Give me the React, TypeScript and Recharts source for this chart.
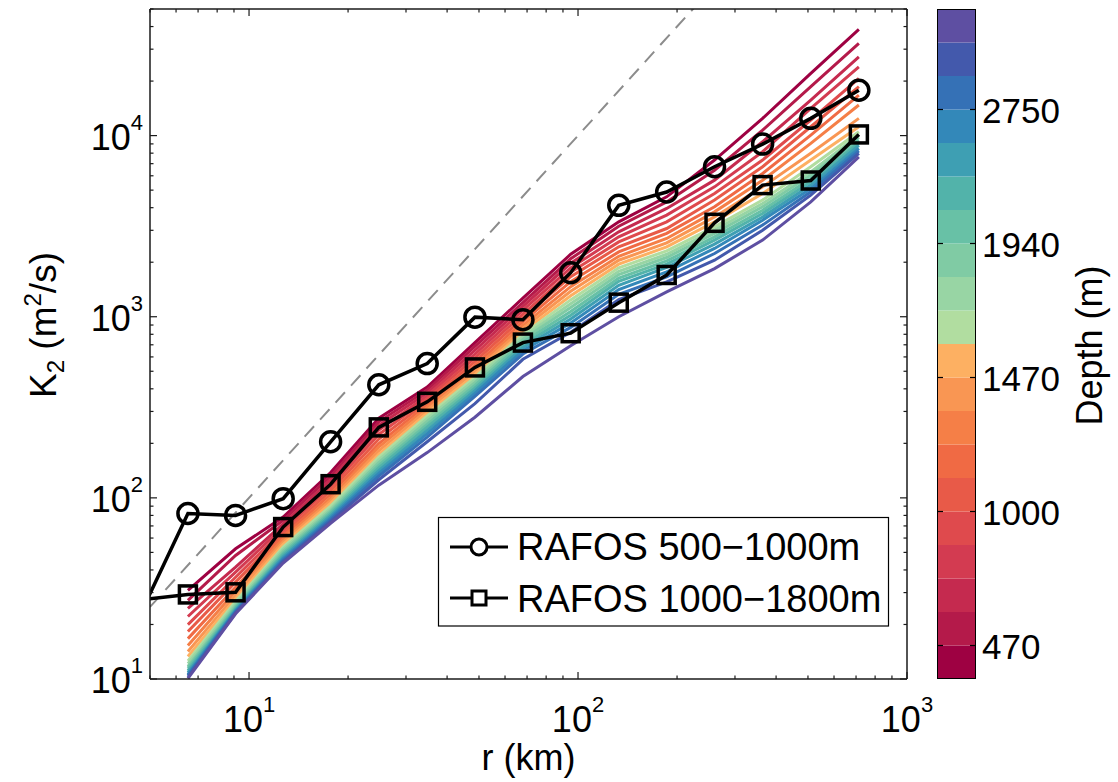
import { Bar, BarChart, Line, LineChart, XAxis, YAxis } from "recharts";

const FONT = '"Liberation Sans", Arial, Helvetica, sans-serif';
const AXIS = "#1a1a1a";

// separation r (km) where the depth curves are sampled
const R_KM = [6.52, 9.1, 12.7, 17.7, 24.8, 34.8, 48.6, 68, 95, 133, 186, 260, 364, 510, 714];

// log10 K2 (m^2/s) per depth level, shallow (470 m) first, deepest last
const K2_LOG10: number[][] = [
  [1.489, 1.719, 1.894, 2.14, 2.44, 2.612, 2.857, 3.103, 3.345, 3.524, 3.662, 3.865, 4.095, 4.344, 4.587],
  [1.434, 1.682, 1.876, 2.12, 2.42, 2.596, 2.836, 3.078, 3.32, 3.5, 3.634, 3.809, 4.03, 4.27, 4.509],
  [1.39, 1.618, 1.857, 2.1, 2.4, 2.58, 2.815, 3.057, 3.295, 3.469, 3.598, 3.754, 3.966, 4.196, 4.435],
  [1.345, 1.59, 1.839, 2.08, 2.375, 2.564, 2.794, 3.036, 3.27, 3.441, 3.561, 3.717, 3.911, 4.15, 4.38],
  [1.3, 1.562, 1.82, 2.06, 2.35, 2.548, 2.773, 3.015, 3.246, 3.413, 3.524, 3.68, 3.865, 4.086, 4.316],
  [1.262, 1.535, 1.802, 2.04, 2.325, 2.532, 2.752, 2.994, 3.221, 3.386, 3.487, 3.644, 3.828, 4.049, 4.27],
  [1.223, 1.507, 1.787, 2.02, 2.3, 2.516, 2.731, 2.973, 3.194, 3.358, 3.46, 3.607, 3.791, 4.003, 4.224],
  [1.185, 1.485, 1.772, 2.0, 2.28, 2.5, 2.714, 2.952, 3.166, 3.334, 3.432, 3.579, 3.754, 3.957, 4.169],
  [1.152, 1.463, 1.758, 1.985, 2.26, 2.484, 2.697, 2.935, 3.141, 3.312, 3.408, 3.551, 3.717, 3.902, 4.095],
  [1.124, 1.443, 1.743, 1.97, 2.24, 2.468, 2.68, 2.918, 3.116, 3.29, 3.386, 3.524, 3.68, 3.865, 4.049],
  [1.1, 1.428, 1.728, 1.955, 2.225, 2.452, 2.665, 2.903, 3.093, 3.27, 3.364, 3.496, 3.644, 3.828, 4.021],
  [1.085, 1.415, 1.717, 1.94, 2.21, 2.437, 2.651, 2.888, 3.072, 3.251, 3.345, 3.478, 3.625, 3.8, 4.003],
  [1.07, 1.404, 1.706, 1.93, 2.195, 2.422, 2.636, 2.874, 3.051, 3.233, 3.327, 3.46, 3.607, 3.782, 3.99],
  [1.06, 1.395, 1.695, 1.92, 2.18, 2.406, 2.621, 2.859, 3.029, 3.214, 3.308, 3.441, 3.588, 3.763, 3.975],
  [1.047, 1.388, 1.685, 1.91, 2.165, 2.39, 2.606, 2.844, 3.008, 3.196, 3.29, 3.423, 3.57, 3.745, 3.96],
  [1.036, 1.38, 1.675, 1.9, 2.15, 2.373, 2.592, 2.829, 2.987, 3.174, 3.272, 3.401, 3.551, 3.727, 3.946],
  [1.025, 1.375, 1.665, 1.89, 2.135, 2.355, 2.577, 2.813, 2.966, 3.15, 3.248, 3.377, 3.533, 3.708, 3.929],
  [1.02, 1.37, 1.656, 1.88, 2.12, 2.335, 2.56, 2.794, 2.941, 3.124, 3.22, 3.349, 3.506, 3.69, 3.916],
  [1.01, 1.364, 1.648, 1.87, 2.1, 2.31, 2.52, 2.765, 2.914, 3.095, 3.192, 3.312, 3.478, 3.671, 3.902],
  [1.003, 1.36, 1.64, 1.86, 2.07, 2.25, 2.445, 2.67, 2.84, 3.0, 3.137, 3.266, 3.423, 3.634, 3.883],
];

const LEVEL_COLORS = [
  "#9e0142", "#b41a4a", "#c52a4f", "#d33b51", "#df4a4d",
  "#e85a48", "#f06a44", "#f57f47", "#f99653", "#fdb062",
  "#b1dda0", "#98d5a4", "#80cba4", "#68c1a6", "#52b3aa",
  "#3e9fb3", "#3388b9", "#3571b6", "#4359ac", "#5e4fa2",
];

// RAFOS float estimates (first point sits just left of the axis)
const RAFOS_R = [4.65, 6.52, 9.1, 12.7, 17.7, 24.8, 34.8, 48.6, 68, 95, 133, 186, 260, 364, 510, 714];
const RAFOS_500_1000 = [22.4, 82, 80, 99, 204, 421, 551, 995, 962, 1750, 4120, 4880, 6730, 8980, 12450, 17800];
const RAFOS_1000_1800 = [27.3, 29.3, 30.1, 69, 119, 245, 339, 525, 720, 811, 1196, 1700, 3300, 5330, 5650, 10150];

// dashed r^2 reference
const REF_R = [5, 1000];
const REF_K = [25, 1000000];

const X_TICKS = [5, 6, 7, 8, 9, 10, 20, 30, 40, 50, 60, 70, 80, 90, 100, 200, 300, 400, 500, 600, 700, 800, 900, 1000];
const Y_TICKS = [
  10, 20, 30, 40, 50, 60, 70, 80, 90, 100, 200, 300, 400, 500, 600, 700, 800, 900,
  1000, 2000, 3000, 4000, 5000, 6000, 7000, 8000, 9000, 10000, 20000, 30000, 40000, 50000,
];

const DEPTH_TICKS = [1, 5, 9, 13, 17];
const DEPTH_LABELS = ["470", "1000", "1470", "1940", "2750"];

const levelRows = R_KM.map((r, i) => {
  const row: Record<string, number> = { r };
  K2_LOG10.forEach((lv, j) => {
    row[`d${j}`] = Math.pow(10, lv[i]);
  });
  return row;
});
const shallowRows = RAFOS_R.map((r, i) => ({ r, k: RAFOS_500_1000[i] }));
const deepRows = RAFOS_R.map((r, i) => ({ r, k: RAFOS_1000_1800[i] }));
const refRows = REF_R.map((r, i) => ({ r, k: REF_K[i] }));

const cbRow: Record<string, number | string> = { name: "depth" };
LEVEL_COLORS.forEach((_, i) => {
  cbRow[`s${i}`] = 1;
});

function exponent(v: number) {
  const e = Math.log10(v);
  return Math.abs(e - Math.round(e)) < 1e-9 ? Math.round(e) : null;
}

function Pow10({ e, ...rest }: any) {
  return (
    <text fontFamily={FONT} fontSize={36} fill="#000" {...rest}>
      <tspan>10</tspan>
      <tspan dy={-20} fontSize={22}>
        {e}
      </tspan>
    </text>
  );
}

function BottomTick({ x, y, payload }: any) {
  const e = exponent(payload.value);
  return (
    <g>
      <line x1={x} x2={x} y1={y} y2={y - (e !== null ? 7 : 3.5)} stroke={AXIS} strokeWidth={1.2} />
      {e !== null && <Pow10 e={e} x={x} y={y + 53} textAnchor="middle" />}
    </g>
  );
}

function TopTick({ x, y, payload }: any) {
  const e = exponent(payload.value);
  return <line x1={x} x2={x} y1={y} y2={y + (e !== null ? 7 : 3.5)} stroke={AXIS} strokeWidth={1.2} />;
}

function LeftTick({ x, y, payload }: any) {
  const e = exponent(payload.value);
  return (
    <g>
      <line x1={x} x2={x + (e !== null ? 7 : 3.5)} y1={y} y2={y} stroke={AXIS} strokeWidth={1.2} />
      {e !== null && <Pow10 e={e} x={x - 7} y={y + 14} textAnchor="end" />}
    </g>
  );
}

function RightTick({ x, y, payload }: any) {
  const e = exponent(payload.value);
  return <line x1={x} x2={x - (e !== null ? 7 : 3.5)} y1={y} y2={y} stroke={AXIS} strokeWidth={1.2} />;
}

function ColorbarTick({ x, y, payload, index }: any) {
  return (
    <g>
      <line x1={x} x2={x - 6} y1={y} y2={y} stroke="#000" strokeWidth={1.2} />
      <line x1={x - 39} x2={x - 33} y1={y} y2={y} stroke="#000" strokeWidth={1.2} />
      <text x={x + 6} y={y + 13} fontFamily={FONT} fontSize={35} fill="#000">
        {DEPTH_LABELS[index] ?? payload.value}
      </text>
    </g>
  );
}

const circleDot = (p: any) => {
  if (p.payload.r < 5) return <g key={`c${p.index}`} />;
  return <circle key={`c${p.index}`} cx={p.cx} cy={p.cy} r={10} fill="none" stroke="#000" strokeWidth={3.5} />;
};

const squareDot = (p: any) => {
  if (p.payload.r < 5) return <g key={`s${p.index}`} />;
  return (
    <rect key={`s${p.index}`} x={p.cx - 8.5} y={p.cy - 8.5} width={17} height={17} fill="none" stroke="#000" strokeWidth={3.5} />
  );
};

export default function App() {
  return (
    <div style={{ position: "absolute", left: 0, top: 0, width: 1118, height: 782, background: "#fff" }}>
      <div style={{ position: "absolute", left: 0, top: 0 }}>
        <LineChart width={1118} height={782} data={levelRows} margin={{ top: 8, right: 210, bottom: 0, left: 0 }}>
          <XAxis
            dataKey="r"
            type="number"
            scale="log"
            domain={[5, 1000]}
            allowDataOverflow
            ticks={X_TICKS}
            interval={0}
            height={103}
            tickSize={0}
            tickMargin={0}
            tickLine={false}
            axisLine={{ stroke: AXIS, strokeWidth: 1.5 }}
            tick={BottomTick}
          />
          <XAxis
            xAxisId="top"
            orientation="top"
            dataKey="r"
            type="number"
            scale="log"
            domain={[5, 1000]}
            allowDataOverflow
            ticks={X_TICKS}
            interval={0}
            height={1}
            tickSize={0}
            tickMargin={0}
            tickLine={false}
            axisLine={{ stroke: AXIS, strokeWidth: 1.5 }}
            tick={TopTick}
          />
          <YAxis
            type="number"
            scale="log"
            domain={[10, 50000]}
            allowDataOverflow
            ticks={Y_TICKS}
            interval={0}
            width={150}
            tickSize={0}
            tickMargin={0}
            tickLine={false}
            axisLine={{ stroke: AXIS, strokeWidth: 1.5 }}
            tick={LeftTick}
          />
          <YAxis
            yAxisId="right"
            orientation="right"
            type="number"
            scale="log"
            domain={[10, 50000]}
            allowDataOverflow
            ticks={Y_TICKS}
            interval={0}
            width={1}
            tickSize={0}
            tickMargin={0}
            tickLine={false}
            axisLine={{ stroke: AXIS, strokeWidth: 1.5 }}
            tick={RightTick}
          />
          <Line
            xAxisId="top"
            yAxisId="right"
            data={refRows}
            dataKey="k"
            type="linear"
            stroke="#8c8c8c"
            strokeWidth={2}
            strokeDasharray="14 9"
            dot={false}
            activeDot={false}
            isAnimationActive={false}
          />
          {LEVEL_COLORS.map((c, j) => (
            <Line
              key={c}
              dataKey={`d${j}`}
              type="linear"
              stroke={c}
              strokeWidth={3}
              dot={false}
              activeDot={false}
              isAnimationActive={false}
            />
          ))}
          <Line
            data={shallowRows}
            dataKey="k"
            type="linear"
            stroke="#000"
            strokeWidth={3.5}
            dot={circleDot}
            activeDot={false}
            isAnimationActive={false}
          />
          <Line
            data={deepRows}
            dataKey="k"
            type="linear"
            stroke="#000"
            strokeWidth={3.5}
            dot={squareDot}
            activeDot={false}
            isAnimationActive={false}
          />
        </LineChart>
      </div>

      <div style={{ position: "absolute", left: 937, top: 0 }}>
        <BarChart
          width={181}
          height={782}
          data={[cbRow]}
          margin={{ top: 9, right: 0, bottom: 103, left: 0 }}
          barCategoryGap={0}
          barGap={0}
        >
          <XAxis dataKey="name" hide />
          <YAxis
            orientation="right"
            type="number"
            domain={[0, 20]}
            ticks={DEPTH_TICKS}
            interval={0}
            width={142}
            tickSize={0}
            tickMargin={0}
            axisLine={false}
            tickLine={false}
            tick={ColorbarTick}
          />
          {LEVEL_COLORS.map((c, i) => (
            <Bar key={c} dataKey={`s${i}`} stackId="cb" fill={c} isAnimationActive={false} />
          ))}
        </BarChart>
      </div>
      <div
        style={{
          position: "absolute",
          left: 937,
          top: 9,
          width: 39,
          height: 670,
          border: "1.2px solid #000",
          boxSizing: "border-box",
          pointerEvents: "none",
        }}
      />

      <svg width={1118} height={782} style={{ position: "absolute", left: 0, top: 0, pointerEvents: "none" }}>
        <g fontFamily={FONT} fill="#000">
          <text transform="translate(56,325) rotate(-90)" textAnchor="middle" fontSize={37}>
            K<tspan dy={8} fontSize={24}>2</tspan>
            <tspan dy={-8}> (m</tspan>
            <tspan dy={-15} fontSize={24}>2</tspan>
            <tspan dy={15}>/s)</tspan>
          </text>
          <text x={528.5} y={770} textAnchor="middle" fontSize={36}>
            r (km)
          </text>
          <text transform="translate(1102,345.5) rotate(-90)" textAnchor="middle" fontSize={36}>
            Depth (m)
          </text>
        </g>
        <rect x={438.5} y={517.5} width={450} height={108.5} fill="#fff" stroke="#000" strokeWidth={1.2} />
        <line x1={450} x2={508} y1={547} y2={547} stroke="#000" strokeWidth={3} />
        <circle cx={479} cy={547} r={8} fill="#fff" stroke="#000" strokeWidth={3} />
        <line x1={450} x2={508} y1={598} y2={598} stroke="#000" strokeWidth={3} />
        <rect x={472} y={591} width={14} height={14} fill="#fff" stroke="#000" strokeWidth={3} />
        <text x={517} y={560} fontFamily={FONT} fontSize={38} fill="#000">
          RAFOS 500−1000m
        </text>
        <text x={517} y={611.5} fontFamily={FONT} fontSize={38} fill="#000">
          RAFOS 1000−1800m
        </text>
      </svg>
    </div>
  );
}
